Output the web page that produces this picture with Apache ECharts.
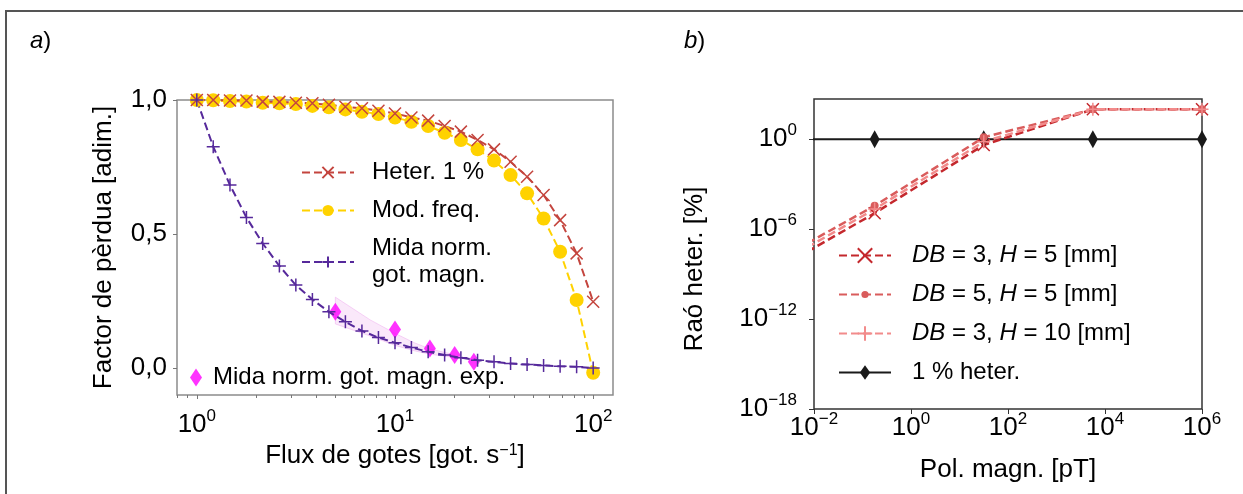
<!DOCTYPE html>
<html>
<head>
<meta charset="utf-8">
<script src="https://cdn.jsdelivr.net/npm/echarts@6/dist/echarts.min.js"></script>
<style>
  html, body { margin: 0; padding: 0; background: #fff; }
  #frame { position: absolute; left: 5px; top: 10px; width: 1260px; height: 500px; border: 2px solid #555; box-sizing: border-box; }
  #chart { position: absolute; left: 0; top: 0; width: 1243px; height: 494px; }
</style>
</head>
<body>
<div id="frame"></div>
<div id="chart"></div>
<script>
// panel a) - flux de gotes
const fluxX = [1, 1.21, 1.47, 1.78, 2.15, 2.61, 3.16, 3.83, 4.64, 5.62, 6.81, 8.25, 10, 12.1, 14.7, 17.8, 21.5, 26.1, 31.6, 38.3, 46.4, 56.2, 68.1, 82.5, 100]
const heter1 = [1.0, 1.0, 0.998, 0.998, 0.994, 0.993, 0.990, 0.988, 0.982, 0.975, 0.969, 0.960, 0.950, 0.935, 0.923, 0.903, 0.882, 0.851, 0.816, 0.770, 0.714, 0.646, 0.552, 0.428, 0.248]
const modFreq = [1.0, 0.999, 0.996, 0.994, 0.990, 0.988, 0.985, 0.978, 0.973, 0.965, 0.956, 0.948, 0.935, 0.919, 0.903, 0.878, 0.851, 0.816, 0.774, 0.720, 0.652, 0.558, 0.434, 0.254, -0.017]
const midaNorm = [1.0, 0.826, 0.683, 0.562, 0.465, 0.381, 0.310, 0.256, 0.210, 0.173, 0.139, 0.114, 0.095, 0.077, 0.061, 0.049, 0.039, 0.030, 0.024, 0.017, 0.014, 0.010, 0.007, 0.005, 0.001]
const expX = [5, 10, 15, 20, 25]
const expMida = [0.210, 0.144, 0.073, 0.049, 0.024]
const bandX = [5, 7.5, 10, 12.5, 15, 20]
const bandLow = [0.165, 0.12, 0.085, 0.065, 0.052, 0.04]
const bandHigh = [0.265, 0.18, 0.13, 0.095, 0.072, 0.05]
const fluxMajor = [1, 10, 100]
const fluxMinor = [0.8, 0.9, 2, 3, 4, 5, 6, 7, 8, 9, 20, 30, 40, 50, 60, 70, 80, 90]
const factorTicks = [0, 0.5, 1]

// panel b) - polaritzacio magnetica
const polX = [1e-3, 0.178, 31.6, 5620, 1e6]
const db3h5 = [7.9e-10, 1.17e-5, 0.42, 100, 100]
const db5h5 = [3.2e-9, 3.7e-5, 1.35, 100, 100]
const db3h10 = [1.6e-9, 2.2e-5, 0.69, 100, 100]
const oneHeter = [1, 1, 1, 1, 1]
const polTicks = [1e-2, 1, 1e2, 1e4, 1e6]
const raoTicks = [1e-18, 1e-12, 1e-6, 1]

const FONT = '"Liberation Sans", Arial, sans-serif'
const lg = (v) => Math.log10(v)
const pairs = (xs, ys) => xs.map((x, i) => [lg(x), ys[i]])
const pairsLog = (xs, ys) => xs.map((x, i) => [lg(x), lg(ys[i])])

const SYM_X = 'path://M0,0L10,10M10,0L0,10'
const SYM_PLUS = 'path://M5,0L5,10M0,5L10,5'
// punt petit i diamant estret dins d'una caixa (per a la llegenda)
const SYM_DOT = 'path://M0,0M20,20M15,10A5,5 0 1 1 5,10A5,5 0 1 1 15,10Z'
const SYM_THIN_DIAMOND = 'path://M0,0M14,18M7,0L12,9L7,18L2,9Z'

// etiqueta 10^n amb superindex
function pow10(v) {
  const e = Math.round(v)
  return '{b|10}{s|' + (e < 0 ? '\u2212' + (-e) : e) + '}'
}
const supRich = {
  b: { fontSize: 26, fontFamily: FONT, color: '#000', lineHeight: 34 },
  s: { fontSize: 17, fontFamily: FONT, color: '#000', verticalAlign: 'top', lineHeight: 17 },
}

const C_HET = '#c4453e'
const C_FREQ = '#ffd200'
const C_MIDA = '#56299b'
const C_EXP = '#ff00ff'
const C_R1 = '#c4282d'
const C_R2 = '#d95c5c'
const C_R3 = '#f28b8b'

function markerStyle(c) {
  return { color: c, borderColor: c, borderWidth: 1.5 }
}

const chart = echarts.init(document.getElementById('chart'))

const option = {
  animation: false,
  textStyle: { fontFamily: FONT },
  title: [
    { text: '{i|a})', left: 25, top: 24, textStyle: { fontSize: 24, fontWeight: 'normal', color: '#000', rich: { i: { fontStyle: 'italic', fontSize: 24 } } } },
    { text: '{i|b})', left: 679, top: 24, textStyle: { fontSize: 24, fontWeight: 'normal', color: '#000', rich: { i: { fontStyle: 'italic', fontSize: 24 } } } },
  ],
  grid: [
    { left: 177, top: 100, width: 436, height: 295, show: true, borderColor: '#8c8c8c', borderWidth: 1.5 },
    { left: 814, top: 99, width: 388, height: 310, show: true, borderColor: '#333', borderWidth: 1.5 },
  ],
  xAxis: [
    {
      type: 'value', gridIndex: 0, min: -0.1, max: 2.1,
      name: 'Flux de gotes [got. s{s|\u22121}]', nameLocation: 'middle', nameGap: 46,
      nameTextStyle: { fontSize: 26, color: '#000', rich: { s: { fontSize: 16, verticalAlign: 'top', lineHeight: 16 } } },
      axisLine: { show: false, onZero: false },
      axisTick: { customValues: fluxMajor.map(lg), length: 4, lineStyle: { color: '#777' } },
      axisLabel: { customValues: fluxMajor.map(lg), formatter: pow10, rich: supRich, margin: 13 },
      splitLine: { show: false },
    },
    {
      type: 'value', gridIndex: 0, min: -0.1, max: 2.1, position: 'bottom',
      axisLine: { show: false, onZero: false },
      axisTick: { customValues: fluxMinor.map(lg), length: 3, lineStyle: { color: '#777' } },
      axisLabel: { show: false },
      splitLine: { show: false },
    },
    {
      type: 'value', gridIndex: 1, min: -2, max: 6,
      name: 'Pol. magn. [pT]', nameLocation: 'middle', nameGap: 48,
      nameTextStyle: { fontSize: 26, color: '#000' },
      axisLine: { show: false, onZero: false },
      axisTick: { customValues: polTicks.map(lg), length: 5, lineStyle: { color: '#333' } },
      axisLabel: { customValues: polTicks.map(lg), formatter: pow10, rich: supRich, margin: 2 },
      splitLine: { show: false },
    },
  ],
  yAxis: [
    {
      type: 'value', gridIndex: 0, min: -0.1, max: 1.0,
      name: 'Factor de pèrdua [adim.]', nameLocation: 'middle', nameGap: 60, nameRotate: 90,
      nameTextStyle: { fontSize: 26, color: '#000' },
      axisLine: { show: false, onZero: false },
      axisTick: { customValues: factorTicks, length: 4, lineStyle: { color: '#777' } },
      axisLabel: {
        customValues: factorTicks, margin: 10, fontSize: 26, color: '#000',
        formatter: (v) => v.toFixed(1).replace('.', ','),
      },
      splitLine: { show: false },
    },
    {
      type: 'value', gridIndex: 1, min: -18, max: 2.69,
      name: 'Raó heter. [%]', nameLocation: 'middle', nameGap: 106, nameRotate: 90,
      nameTextStyle: { fontSize: 26, color: '#000', padding: [0, 30, 0, 0] },
      axisLine: { show: false, onZero: false },
      axisTick: { customValues: raoTicks.map(lg), length: 5, lineStyle: { color: '#333' } },
      axisLabel: { customValues: raoTicks.map(lg), formatter: pow10, rich: supRich, margin: 17 },
      splitLine: { show: false },
    },
  ],
  legend: [
    {
      data: ['Heter. 1 %', 'Mod. freq.', 'Mida norm. got. magn.'],
      orient: 'vertical', left: 301, top: 159, padding: 0,
      itemWidth: 52, itemHeight: 14, itemGap: 11, selectedMode: false,
      formatter: (n) => n.replace('norm. ', 'norm.\n'),
      textStyle: { fontSize: 24, lineHeight: 27, color: '#000', padding: [0, 0, 0, 13] },
    },
    {
      data: ['Mida norm. got. magn. exp.'],
      left: 190, top: 364, padding: 0,
      itemWidth: 12, itemHeight: 18, selectedMode: false,
      textStyle: { fontSize: 24, lineHeight: 27, color: '#000', padding: [0, 0, 0, 6] },
    },
    {
      data: ['DB = 3, H = 5 [mm]', 'DB = 5, H = 5 [mm]', 'DB = 3, H = 10 [mm]', '1 % heter.'],
      orient: 'vertical', left: 838, top: 242, padding: 0,
      itemWidth: 52, itemHeight: 18, itemGap: 12, selectedMode: false,
      formatter: (n) => n.replace('DB', '{i|DB}').replace('H =', '{i|H} ='),
      textStyle: {
        fontSize: 24, lineHeight: 27, color: '#000', padding: [0, 0, 0, 16],
        rich: { i: { fontStyle: 'italic', fontSize: 24, color: '#000' } },
      },
    },
  ],
  series: [
    // banda d'incertesa de la mida experimental
    {
      type: 'custom', xAxisIndex: 0, yAxisIndex: 0, silent: true,
      data: pairs(bandX, bandLow),
      renderItem: (params, api) => {
        if (params.dataIndex !== 0) return
        const top = bandX.map((x, i) => api.coord([lg(x), bandHigh[i]]))
        const bottom = bandX.map((x, i) => api.coord([lg(x), bandLow[i]])).reverse()
        return {
          type: 'polygon',
          shape: { points: top.concat(bottom) },
          style: { fill: 'rgba(232, 140, 232, 0.2)', stroke: 'rgba(232, 140, 232, 0.35)', lineWidth: 1 },
        }
      },
    },
    {
      name: 'Mod. freq.', type: 'line', xAxisIndex: 0, yAxisIndex: 0, clip: false,
      data: pairs(fluxX, modFreq), symbol: 'circle', symbolSize: 14, showAllSymbol: true,
      lineStyle: { color: C_FREQ, width: 2, type: [8, 4] }, itemStyle: { color: C_FREQ },
    },
    {
      name: 'Heter. 1 %', type: 'line', xAxisIndex: 0, yAxisIndex: 0, clip: false,
      data: pairs(fluxX, heter1), symbol: SYM_X, symbolSize: 12, showAllSymbol: true,
      lineStyle: { color: C_HET, width: 2, type: [8, 4] }, itemStyle: markerStyle(C_HET),
    },
    {
      name: 'Mida norm. got. magn.', type: 'line', xAxisIndex: 0, yAxisIndex: 0, clip: false,
      data: pairs(fluxX, midaNorm), symbol: SYM_PLUS, symbolSize: 13, showAllSymbol: true,
      lineStyle: { color: C_MIDA, width: 2, type: [8, 4] }, itemStyle: markerStyle(C_MIDA),
    },
    {
      name: 'Mida norm. got. magn. exp.', type: 'scatter', xAxisIndex: 0, yAxisIndex: 0,
      data: pairs(expX, expMida), symbol: 'diamond', symbolSize: [12, 18],
      itemStyle: { color: C_EXP },
    },
    // panel b
    {
      name: '1 % heter.', type: 'line', xAxisIndex: 2, yAxisIndex: 1, clip: true,
      data: pairsLog(polX, oneHeter), symbol: SYM_THIN_DIAMOND, symbolSize: [14, 18],
      lineStyle: { color: '#1a1a1a', width: 2 }, itemStyle: { color: '#1a1a1a' },
    },
    {
      name: 'DB = 3, H = 5 [mm]', type: 'line', xAxisIndex: 2, yAxisIndex: 1, clip: true,
      data: pairsLog(polX, db3h5), symbol: SYM_X, symbolSize: 12,
      lineStyle: { color: C_R1, width: 2.5, type: [8, 4] }, itemStyle: markerStyle(C_R1),
    },
    {
      name: 'DB = 5, H = 5 [mm]', type: 'line', xAxisIndex: 2, yAxisIndex: 1, clip: true,
      data: pairsLog(polX, db5h5), symbol: SYM_DOT, symbolSize: 16,
      lineStyle: { color: C_R2, width: 2.5, type: [8, 4] }, itemStyle: { color: C_R2 },
    },
    {
      name: 'DB = 3, H = 10 [mm]', type: 'line', xAxisIndex: 2, yAxisIndex: 1, clip: true,
      data: pairsLog(polX, db3h10), symbol: SYM_PLUS, symbolSize: 13,
      lineStyle: { color: C_R3, width: 2.5, type: [8, 4] }, itemStyle: markerStyle(C_R3),
    },
  ],
}

chart.setOption(option)
window.addEventListener('resize', () => chart.resize())
</script>
</body>
</html>
